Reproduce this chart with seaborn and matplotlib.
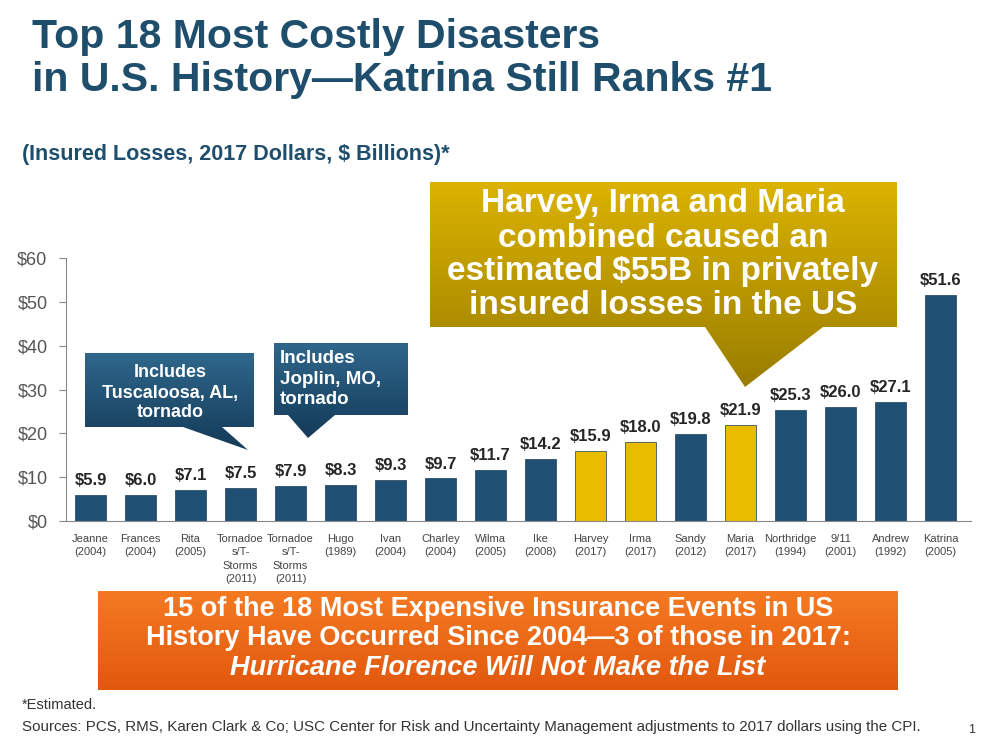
import numpy as np
import pandas as pd
import matplotlib
matplotlib.use("Agg")
import matplotlib.pyplot as plt
import seaborn as sns
from matplotlib.patches import Polygon
from matplotlib.colors import LinearSegmentedColormap

# --- data ---
names = [
    "Jeanne\n(2004)", "Frances\n(2004)", "Rita\n(2005)",
    "Tornadoe\ns/T-\nStorms\n(2011)", "Tornadoe\ns/T-\nStorms\n(2011)",
    "Hugo\n(1989)", "Ivan\n(2004)", "Charley\n(2004)", "Wilma\n(2005)",
    "Ike\n(2008)", "Harvey\n(2017)", "Irma\n(2017)", "Sandy\n(2012)",
    "Maria\n(2017)", "Northridge\n(1994)", "9/11\n(2001)", "Andrew\n(1992)",
    "Katrina\n(2005)",
]
losses = [5.9, 6.0, 7.1, 7.5, 7.9, 8.3, 9.3, 9.7, 11.7, 14.2,
          15.9, 18.0, 19.8, 21.9, 25.3, 26.0, 27.1, 51.6]
group = ["Other"] * 10 + ["2017", "2017", "Other", "2017"] + ["Other"] * 4
y_ticks = [0, 10, 20, 30, 40, 50, 60]

df = pd.DataFrame({"rank": range(len(losses)), "loss": losses, "group": group})

blue = "#1f4f72"
gold = "#e8bd00"
title_col = "#1f4e6c"

sns.set_style("white")
plt.rcParams["font.family"] = ["Liberation Sans", "DejaVu Sans"]

fig = plt.figure(figsize=(9.92, 7.44), dpi=100)
W, H = 992, 744

ax = fig.add_axes([65.5 / W, 1 - 521 / H, (970.5 - 65.5) / W, (521 - 258) / H])
sns.barplot(data=df, x="rank", y="loss", hue="group",
            palette={"Other": blue, "2017": gold}, dodge=False, width=0.62,
            saturation=1, edgecolor="#1a3d58", linewidth=0.5, legend=False,
            ax=ax)

for c in ax.containers:
    ax.bar_label(c, fmt="${:.1f}", padding=5, fontsize=12,
                 fontweight="bold", color="#262626")

ax.set_xlim(-0.5, 17.6)
ax.set_ylim(0, 60)
ax.set_xticks(range(len(names)))
ax.set_xticklabels(names, fontsize=8, color="#444444", linespacing=1.45)
ax.set_xticks(np.arange(-0.5, 17.6, 1), minor=True)
ax.tick_params(axis="x", which="major", length=0, pad=9)
ax.tick_params(axis="x", which="minor", length=4, color="#888888")
ax.set_yticks(y_ticks)
ax.set_yticklabels([f"${v}" for v in y_ticks], fontsize=13, color="#555555")
ax.tick_params(axis="y", length=5, color="#888888", pad=8, left=True)
ax.set_xlabel("")
ax.set_ylabel("")
sns.despine(ax=ax)
for s in ["left", "bottom"]:
    ax.spines[s].set_color("#888888")

# overlay in pixel coordinates for titles and call-out boxes
ov = fig.add_axes([0, 0, 1, 1], zorder=5)
ov.patch.set_alpha(0)
ov.axis("off")


def grad_poly(pts, c_top, c_bot):
    poly = Polygon(pts, closed=True, facecolor="none", edgecolor="none")
    ov.add_patch(poly)
    xs = [p[0] for p in pts]
    ys = [p[1] for p in pts]
    cmap = LinearSegmentedColormap.from_list("g", [c_top, c_bot])
    img = ov.imshow(np.linspace(0, 1, 256).reshape(-1, 1), cmap=cmap,
                    extent=(min(xs), max(xs), max(ys), min(ys)),
                    aspect="auto", zorder=1)
    img.set_clip_path(poly)


def lines(x, ys, texts, **kw):
    for y, t in zip(ys, texts):
        ov.text(x, y, t, va="baseline", zorder=3, **kw)


grad_poly([(430, 182), (897, 182), (897, 327), (823, 327), (745, 387),
           (705, 327), (430, 327)], "#dbb300", "#9a7d00")
grad_poly([(85, 353), (254, 353), (254, 427), (222, 427), (248, 450),
           (183, 427), (85, 427)], "#2f678c", "#143a58")
grad_poly([(274, 343), (408, 343), (408, 415), (335, 415), (308, 438),
           (288, 415), (274, 415)], "#2f678c", "#143a58")
grad_poly([(98, 591), (898, 591), (898, 690), (98, 690)], "#f47a22", "#e2580e")

ov.set_xlim(0, W)
ov.set_ylim(H, 0)

# titles
lines(32, [48, 91], ["Top 18 Most Costly Disasters",
                     "in U.S. History\u2014Katrina Still Ranks #1"],
      fontsize=29.5, fontweight="bold", color=title_col)
lines(22, [160], ["(Insured Losses, 2017 Dollars, $ Billions)*"],
      fontsize=15.5, fontweight="bold", color=title_col)

# call-out text
white = dict(fontweight="bold", color="white")
lines(663, [212, 247, 280, 314],
      ["Harvey, Irma and Maria", "combined caused an",
       "estimated $55B in privately", "insured losses in the US"],
      fontsize=24, ha="center", **white)
lines(170, [377, 398, 417], ["Includes", "Tuscaloosa, AL,", "tornado"],
      fontsize=13, ha="center", **white)
lines(280, [363, 384, 404], ["Includes", "Joplin, MO,", "tornado"],
      fontsize=13.5, ha="left", **white)

lines(498, [616, 645, 675],
      ["15 of the 18 Most Expensive Insurance Events in US",
       "History Have Occurred Since 2004\u20143 of those in 2017:"],
      fontsize=19.5, ha="center", **white)
ov.text(498, 675, "Hurricane Florence Will Not Make the List", fontsize=19.5,
        fontstyle="italic", ha="center", va="baseline", zorder=3, **white)

# footnotes
grey = dict(color="#333333", va="center")
ov.text(22, 705, "*Estimated.", fontsize=10.5, **grey)
ov.text(22, 727, "Sources: PCS, RMS, Karen Clark & Co; USC Center for Risk and "
        "Uncertainty Management adjustments to 2017 dollars using the CPI.",
        fontsize=10.9, **grey)
ov.text(968, 730, "1", fontsize=9, **grey)

fig.savefig("out.png", dpi=100)
